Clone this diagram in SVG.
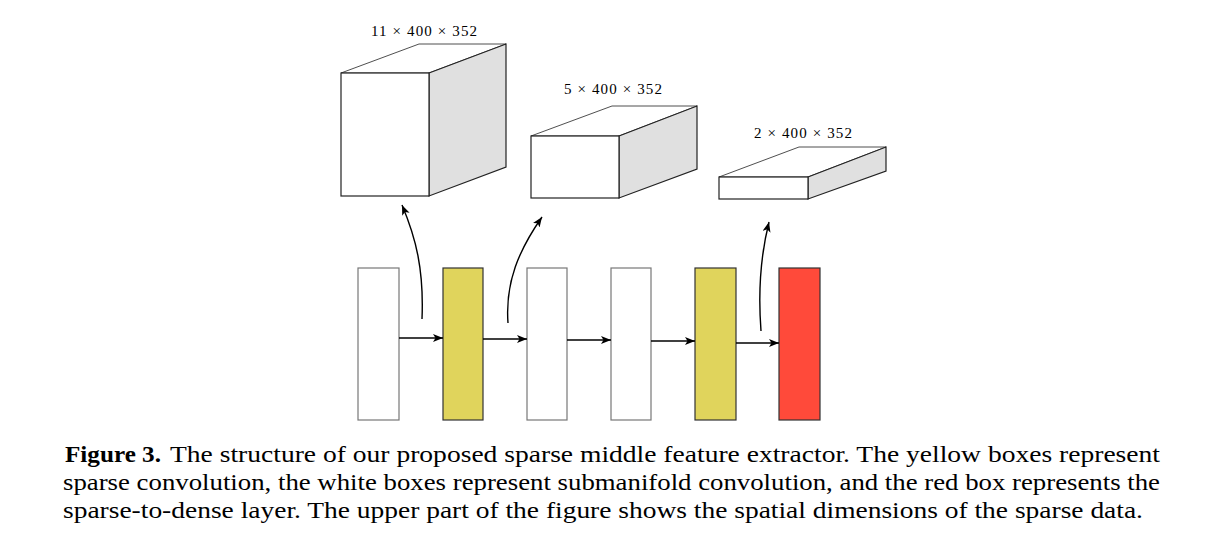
<svg xmlns="http://www.w3.org/2000/svg" width="1217" height="558" viewBox="0 0 1217 558">
<style>
.front{fill:#ffffff;stroke:#222;stroke-width:1.2}
.side{fill:#e0e0e0;stroke:#222;stroke-width:1.2}
.top{fill:#ffffff;stroke:#222;stroke-width:0.8}
.lbl{font-family:"Liberation Serif",serif;font-size:15px;fill:#000;text-anchor:middle}
.wbox{fill:#ffffff;stroke:#777;stroke-width:1.2}
.ybox{fill:#e0d45c;stroke:#333;stroke-width:1.2}
.rbox{fill:#ff4a3a;stroke:#333;stroke-width:1.2}
.conn{fill:none;stroke:#000;stroke-width:1.4}
.cap{font-family:"Liberation Serif",serif;font-size:23px;fill:#000}
</style>
<defs>
<marker id="ah" markerUnits="userSpaceOnUse" markerWidth="12" markerHeight="10" refX="10" refY="4" orient="auto">
<path d="M0,0 L10,4 L0,8 L2.5,4 Z" fill="#000"/>
</marker>
</defs>
<g id="cube1">
<polygon class="top" points="341,73 419,44 506,44 429,73"/>
<polygon class="side" points="429,73 506,44 506,167 429,196"/>
<rect class="front" x="341" y="73" width="88" height="123"/>
<text class="lbl" x="424" y="36" textLength="106" lengthAdjust="spacing">11 × 400 × 352</text>
</g>
<g id="cube2">
<polygon class="top" points="531,136 612,106 697,106 619,136"/>
<polygon class="side" points="619,136 697,106 697,169 619,198"/>
<rect class="front" x="531" y="136" width="88" height="62"/>
<text class="lbl" x="613" y="94" textLength="98" lengthAdjust="spacing">5 × 400 × 352</text>
</g>
<g id="cube3">
<polygon class="top" points="719,177 799,147 886,147 808,177"/>
<polygon class="side" points="808,177 886,147 886,171 808,199"/>
<rect class="front" x="719" y="177" width="89" height="22"/>
<text class="lbl" x="803" y="138" textLength="98" lengthAdjust="spacing">2 × 400 × 352</text>
</g>
<g id="b1"><rect class="wbox" x="358" y="268" width="41" height="152"/></g>
<g id="b2"><rect class="ybox" x="443" y="268" width="40" height="152"/></g>
<g id="b3"><rect class="wbox" x="527" y="268" width="40" height="152"/></g>
<g id="b4"><rect class="wbox" x="611" y="268" width="40" height="152"/></g>
<g id="b5"><rect class="ybox" x="695" y="268" width="41" height="152"/></g>
<g id="b6"><rect class="rbox" x="779" y="268" width="41" height="152"/></g>
<g id="connectors">
<line class="conn" x1="399" y1="338" x2="443" y2="338" marker-end="url(#ah)"/>
<line class="conn" x1="483" y1="339" x2="527" y2="339" marker-end="url(#ah)"/>
<line class="conn" x1="567" y1="340" x2="611" y2="340" marker-end="url(#ah)"/>
<line class="conn" x1="651" y1="341" x2="695" y2="341" marker-end="url(#ah)"/>
<line class="conn" x1="736" y1="343" x2="779" y2="343" marker-end="url(#ah)"/>
<path class="conn" d="M422,319 C424,270 416,238 402,205" marker-end="url(#ah)"/>
<path class="conn" d="M508,323 C505,282 519,250 542,217" marker-end="url(#ah)"/>
<path class="conn" d="M761,331 C758,292 760,258 769,222" marker-end="url(#ah)"/>
</g>
<g id="caption">
<text class="cap" x="65" y="462" font-weight="bold" textLength="96" lengthAdjust="spacingAndGlyphs">Figure 3.</text>
<text class="cap" x="170" y="462" textLength="990" lengthAdjust="spacingAndGlyphs">The structure of our proposed sparse middle feature extractor. The yellow boxes represent</text>
<text class="cap" x="63" y="490" textLength="1097" lengthAdjust="spacingAndGlyphs">sparse convolution, the white boxes represent submanifold convolution, and the red box represents the</text>
<text class="cap" x="63" y="518" textLength="1080" lengthAdjust="spacingAndGlyphs">sparse-to-dense layer. The upper part of the figure shows the spatial dimensions of the sparse data.</text>
</g>
</svg>
